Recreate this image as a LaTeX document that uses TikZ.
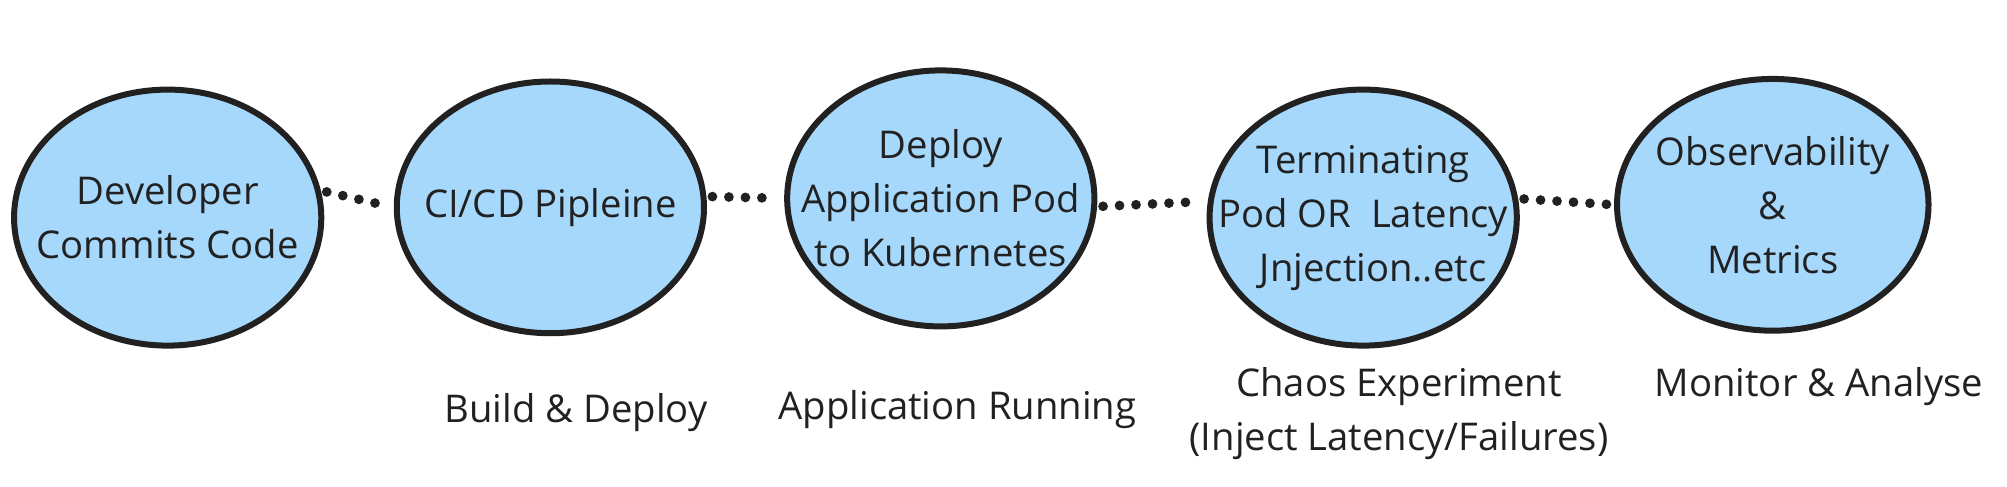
\documentclass[tikz,border=0pt]{standalone}
\usepackage{fontspec}
\setmainfont{Open Sans}
\usetikzlibrary{shapes.geometric}
\definecolor{fillb}{RGB}{166,216,252}
\begin{document}
\begin{tikzpicture}[x=0.03cm,y=-0.03cm,
  st/.style={ellipse,draw=black!87,line width=4pt,fill=fillb,inner xsep=-2.5cm,inner ysep=0pt,align=center,font=\fontsize{25.5}{36}\selectfont,text=black!87},
  dots/.style={line width=6.5pt,line cap=round,dash pattern=on 0pt off 11pt,draw=black!87,shorten <=4pt,shorten >=4pt},
  lab/.style={align=center,font=\fontsize{25.5}{36}\selectfont,text=black!87}]
\useasboundingbox (0,0) rectangle (1568,380);
\node[st,minimum width=7.2cm,minimum height=6cm] (a) at (131,170) {Developer\\Commits Code};
\node[st,minimum width=7.2cm,minimum height=5.9cm] (b) at (430,162) {CI/CD Pipleine};
\node[st,minimum width=7.2cm,minimum height=6cm] (c) at (735,155) {Deploy\\Application Pod\\to Kubernetes};
\node[st,minimum width=7.2cm,minimum height=6cm] (d) at (1065,170) {Terminating\\Pod OR\ \ Latency\\\ \ Jnjection..etc};
\node[st,minimum width=7.3cm,minimum height=5.9cm] (e) at (1385,160) {Observability\\\&\\Metrics};
\draw[dots] (a.10) -- (b.west);
\draw[dots] (b.4) -- (c.west);
\draw[dots] (c.-3) -- (d.174);
\draw[dots] (d.7) -- (e.west);
\node[lab] (l1) at (450,322) {Build \& Deploy};
\node[lab] (l2) at (748,320) {Application Running};
\node[lab] (l3) at (1093,323) {Chaos Experiment\\(Inject Latency/Failures)};
\node[lab] (l4) at (1421,302) {Monitor \& Analyse};
\end{tikzpicture}
\end{document}
